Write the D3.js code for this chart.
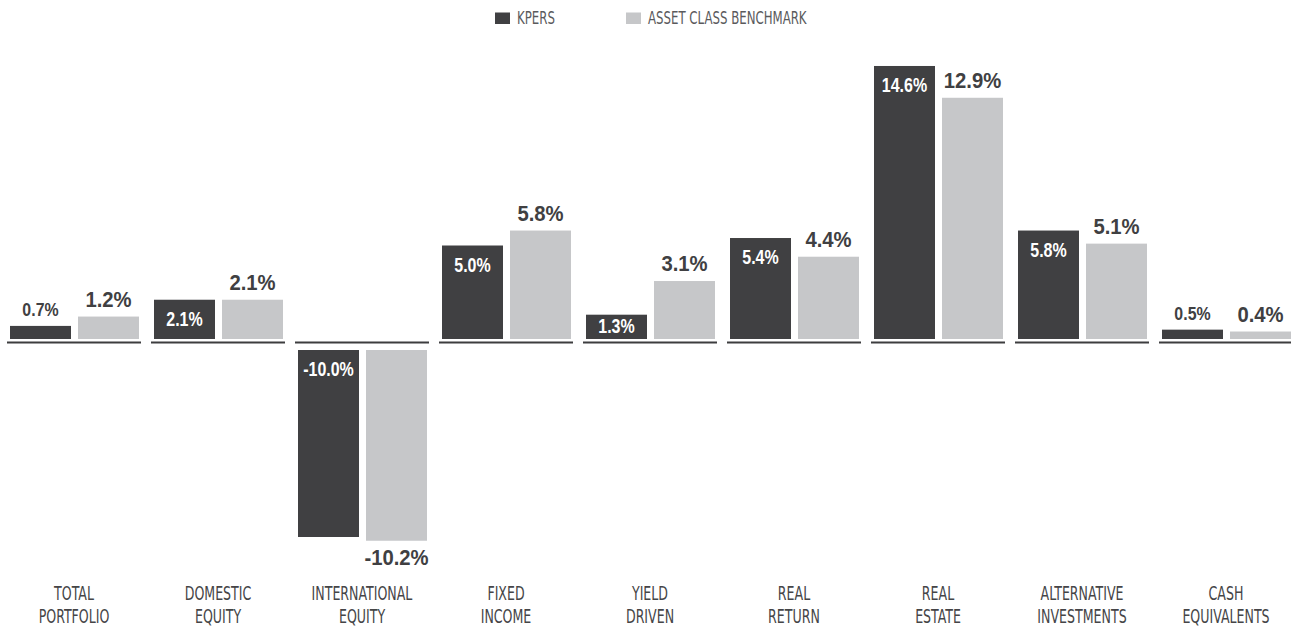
<!DOCTYPE html>
<html>
<head>
<meta charset="utf-8">
<script src="https://cdn.jsdelivr.net/npm/d3@7"></script>
<style>
  html, body { margin: 0; padding: 0; background: #fff; }
  svg { display: block; }
</style>
</head>
<body>
<svg id="chart" width="1291" height="627"></svg>
<script>
// ---- data ----
const categories = [
  ["TOTAL", "PORTFOLIO"],
  ["DOMESTIC", "EQUITY"],
  ["INTERNATIONAL", "EQUITY"],
  ["FIXED", "INCOME"],
  ["YIELD", "DRIVEN"],
  ["REAL", "RETURN"],
  ["REAL", "ESTATE"],
  ["ALTERNATIVE", "INVESTMENTS"],
  ["CASH", "EQUIVALENTS"]
];
const seriesNames = ["KPERS", "ASSET CLASS BENCHMARK"];
const kpers = [0.7, 2.1, -10.0, 5.0, 1.3, 5.4, 14.6, 5.8, 0.5];
const benchmark = [1.2, 2.1, -10.2, 5.8, 3.1, 4.4, 12.9, 5.1, 0.4];
const colors = ["#404042", "#c6c7c9"];

const svg = d3.select("#chart");

const x0 = d3.scaleBand().domain(d3.range(categories.length)).range([2, 2 + 144 * 9]);
const x1 = d3.scaleBand().domain([0, 1]).range([8, 137]).paddingInner(0.103);

const pxPer = 18.7;
const yPos = d3.scaleLinear().domain([0, 15]).range([339, 339 - 15 * pxPer]);
const yNeg = d3.scaleLinear().domain([0, -11]).range([350, 350 + 11 * pxPer]);
const baseY = 342.5;

const fontVal = "'Liberation Sans', Arial, sans-serif";
const fontCat = "'DejaVu Sans Condensed', 'DejaVu Sans', sans-serif";

const data = categories.map((c, i) => ({ i, cat: c, vals: [kpers[i], benchmark[i]] }));

const g = svg.selectAll("g.grp").data(data).join("g")
  .attr("class", "grp")
  .attr("transform", d => `translate(${x0(d.i)},0)`);

// baseline segments
g.append("line")
  .attr("x1", 5).attr("x2", x0.bandwidth() - 5)
  .attr("y1", baseY).attr("y2", baseY)
  .attr("stroke", "#3d3d3f").attr("stroke-width", 2);

// bars
g.selectAll("rect").data(d => d.vals.map((v, s) => ({ v, s }))).join("rect")
  .attr("x", d => x1(d.s))
  .attr("width", x1.bandwidth())
  .attr("y", d => d.v >= 0 ? yPos(d.v) : yNeg(0))
  .attr("height", d => d.v >= 0 ? yPos(0) - yPos(d.v) : yNeg(d.v) - yNeg(0))
  .attr("fill", d => colors[d.s]);

// value labels
const fmt = v => v.toFixed(1) + "%";
const inside = d => d.s === 0 && Math.abs(d.v) * pxPer >= 22;
const labelY = d => {
  if (d.s === 0) {
    if (inside(d)) {
      if (d.v >= 0) return Math.min(yPos(d.v) + 26, yPos(0) - 6);
      return yNeg(0) + 26;
    }
    return yPos(d.v) - 10;
  }
  return d.v >= 0 ? yPos(d.v) - 10 : yNeg(d.v) + 24;
};
const labelStyle = d => {
  if (d.s === 1) return { size: 22.5, sx: 0.9, fill: "#404042" };
  if (inside(d)) return { size: 19.5, sx: 0.82, fill: "#ffffff" };
  return { size: 18.5, sx: 0.86, fill: "#404042" };
};
g.selectAll("text.val").data(d => d.vals.map((v, s) => ({ v, s }))).join("text")
  .attr("class", "val")
  .attr("transform", d => `translate(${x1(d.s) + x1.bandwidth() / 2},${labelY(d)}) scale(${labelStyle(d).sx},1)`)
  .attr("text-anchor", "middle")
  .attr("font-family", fontVal)
  .attr("font-weight", "bold")
  .attr("font-size", d => labelStyle(d).size)
  .attr("fill", d => labelStyle(d).fill)
  .text(d => fmt(d.v));

// category labels
const cl = g.append("text")
  .attr("transform", d => `translate(${x0.bandwidth() / 2},0) scale(0.7,1)`)
  .attr("text-anchor", "middle")
  .attr("font-family", fontCat)
  .attr("font-size", 20)
  .attr("fill", "#454547");
cl.append("tspan").attr("x", 0).attr("y", 600).text(d => d.cat[0]);
cl.append("tspan").attr("x", 0).attr("y", 623).text(d => d.cat[1]);

// legend
const legendX = [495, 626];
const lg = svg.selectAll("g.leg").data(seriesNames).join("g")
  .attr("class", "leg")
  .attr("transform", (d, i) => `translate(${legendX[i]},0)`);
lg.append("rect").attr("x", 0).attr("y", 12.5).attr("width", 15).attr("height", 11.5)
  .attr("fill", (d, i) => colors[i]);
lg.append("text")
  .attr("transform", "translate(22,24) scale(0.77,1)")
  .attr("font-family", fontCat)
  .attr("font-size", 17)
  .attr("fill", "#5a5a5c")
  .text(d => d);
</script>
</body>
</html>
